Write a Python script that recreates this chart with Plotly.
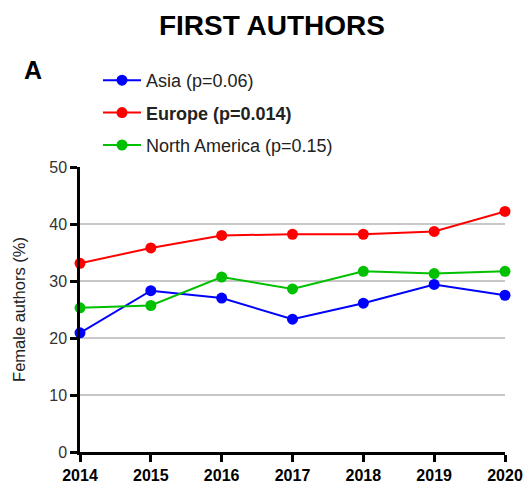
import plotly.graph_objects as go

years = [2014, 2015, 2016, 2017, 2018, 2019, 2020]
asia = [20.9, 28.3, 27.0, 23.3, 26.1, 29.4, 27.5]
europe = [33.1, 35.8, 38.0, 38.2, 38.2, 38.7, 42.2]
north_america = [25.3, 25.7, 30.7, 28.6, 31.7, 31.3, 31.7]

series = [
    ("Asia (p=0.06)", asia, "#0000ff"),
    ("<b>Europe (p=0.014)</b>", europe, "#ff0000"),
    ("North America (p=0.15)", north_america, "#00c000"),
]

FONT = "Liberation Sans, Arial, sans-serif"

fig = go.Figure()
for i, (name, vals, color) in enumerate(series):
    fig.add_trace(go.Scatter(
        x=years, y=vals, name=name, mode="lines+markers",
        line=dict(color=color, width=2),
        marker=dict(color=color, size=11),
        cliponaxis=False, legendgroup=str(i),
    ))

fig.update_layout(
    width=525, height=485,
    margin=dict(l=80, r=20, t=167, b=33, autoexpand=False),
    paper_bgcolor="white", plot_bgcolor="white",
    font=dict(family=FONT, size=16, color="#222"),
    title=dict(text="<b>FIRST AUTHORS</b>", x=(272) / 525, xanchor="center", y=1 - 25 / 485, yanchor="middle",
               font=dict(size=28, color="black", family=FONT)),
    showlegend=True,
    legend=dict(x=(98 - 80) / 425, y=(452 - 62) / 285, xanchor="left", yanchor="top", bgcolor="rgba(0,0,0,0)",
                font=dict(size=18, color="#222", family=FONT), tracegroupgap=6, itemwidth=38),
    xaxis=dict(range=[2014, 2020], tickvals=years, ticktext=[f"<b>{y}</b>" for y in years],
               showline=True, linecolor="black", linewidth=2.5, ticks="outside", ticklen=7,
               tickwidth=2.5, tickcolor="black", showgrid=False, zeroline=False, automargin=False,
               tickfont=dict(size=16, color="black", family=FONT)),
    yaxis=dict(range=[0, 50], tickvals=[0, 10, 20, 30, 40, 50], showline=True, linecolor="black",
               linewidth=2.5, ticks="outside", ticklen=7, tickwidth=2.5, tickcolor="black",
               showgrid=True, gridcolor="#c8c8c8", gridwidth=1.5, zeroline=False, automargin=False,
               title=dict(text="Female authors (%)", font=dict(size=16.5, color="#222", family=FONT), standoff=20),
               tickfont=dict(size=16, color="#333", family=FONT)),
    annotations=[dict(text="<b>A</b>", x=(33 - 80) / 425, y=(452 - 70) / 285, xref="paper", yref="paper",
                      xanchor="center", yanchor="middle", showarrow=False,
                      font=dict(size=25, color="black", family=FONT))],
)

fig.write_html("out.html", config={"displayModeBar": False},
               post_script="document.body.style.margin='0';document.body.style.padding='0';")
